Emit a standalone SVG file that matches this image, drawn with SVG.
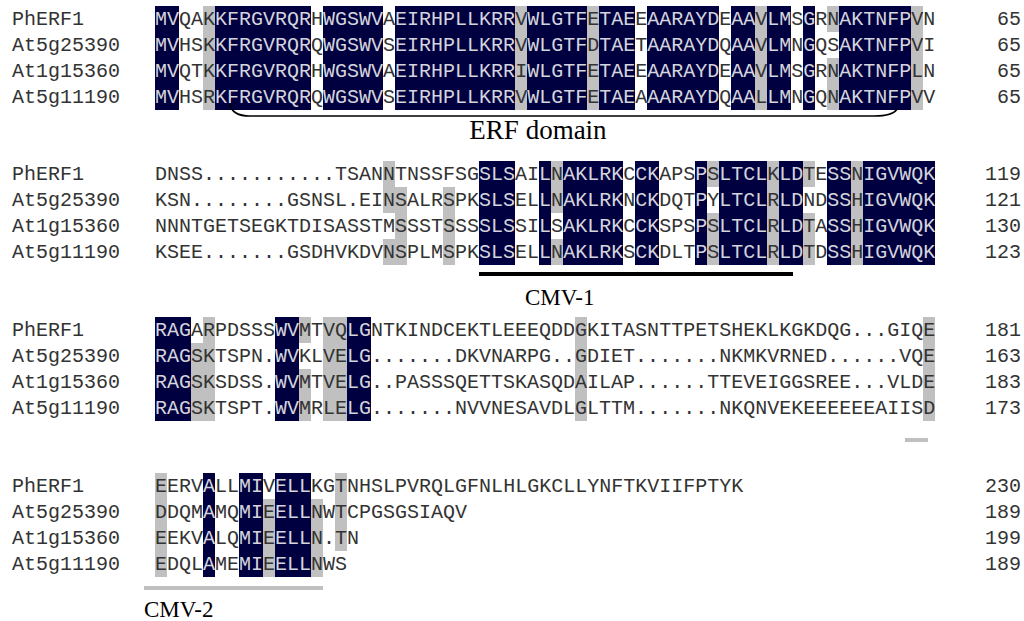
<svg xmlns="http://www.w3.org/2000/svg" width="1024" height="621" viewBox="0 0 1024 621">
<style>
.k{fill:#000040}
.g{fill:#c0c0c0}
text.m{font-family:"Liberation Mono","Courier New",monospace;font-size:20px;fill:#333}
tspan.d{fill:#d4d4dc}
text.n{text-anchor:end}
text.t{font-family:"Liberation Serif","Times New Roman",serif;font-size:23px;fill:#000}
</style>
<rect width="1024" height="621" fill="#fff"/>

<g id="block1">
<rect class="k" x="155" y="6" width="24" height="104"/>
<rect class="k" x="215" y="6" width="96" height="104"/>
<rect class="k" x="323" y="6" width="60" height="104"/>
<rect class="k" x="395" y="6" width="120" height="104"/>
<rect class="k" x="527" y="6" width="60" height="104"/>
<rect class="k" x="599" y="6" width="36" height="104"/>
<rect class="k" x="647" y="6" width="72" height="104"/>
<rect class="k" x="731" y="6" width="24" height="104"/>
<rect class="k" x="767" y="6" width="24" height="104"/>
<rect class="k" x="803" y="6" width="12" height="104"/>
<rect class="k" x="839" y="6" width="72" height="104"/>
<rect class="g" x="203" y="6" width="12" height="104"/>
<rect class="g" x="515" y="6" width="12" height="104"/>
<rect class="g" x="587" y="6" width="12" height="104"/>
<rect class="g" x="755" y="6" width="12" height="104"/>
<rect class="g" x="911" y="6" width="12" height="104"/>
<rect class="g" x="827" y="6" width="12" height="26"/>
<rect class="g" x="827" y="58" width="12" height="52"/>
<text class="m" x="12" y="25">PhERF1</text>
<text class="m" x="12" y="51">At5g25390</text>
<text class="m" x="12" y="77">At1g15360</text>
<text class="m" x="12" y="103">At5g11190</text>
<text class="m" x="155" y="25"><tspan class="d">MV</tspan>QAK<tspan class="d">KFRGVRQR</tspan>H<tspan class="d">WGSWV</tspan>A<tspan class="d">EIRHPLLKRR</tspan>V<tspan class="d">WLGTF</tspan>E<tspan class="d">TAE</tspan>E<tspan class="d">AARAYD</tspan>E<tspan class="d">AA</tspan>V<tspan class="d">LM</tspan>S<tspan class="d">G</tspan>RN<tspan class="d">AKTNFP</tspan>VN</text>
<text class="m" x="155" y="51"><tspan class="d">MV</tspan>HSK<tspan class="d">KFRGVRQR</tspan>Q<tspan class="d">WGSWV</tspan>S<tspan class="d">EIRHPLLKRR</tspan>V<tspan class="d">WLGTF</tspan>D<tspan class="d">TAE</tspan>T<tspan class="d">AARAYD</tspan>Q<tspan class="d">AA</tspan>V<tspan class="d">LM</tspan>N<tspan class="d">G</tspan>QS<tspan class="d">AKTNFP</tspan>VI</text>
<text class="m" x="155" y="77"><tspan class="d">MV</tspan>QTK<tspan class="d">KFRGVRQR</tspan>H<tspan class="d">WGSWV</tspan>A<tspan class="d">EIRHPLLKRR</tspan>I<tspan class="d">WLGTF</tspan>E<tspan class="d">TAE</tspan>E<tspan class="d">AARAYD</tspan>E<tspan class="d">AA</tspan>V<tspan class="d">LM</tspan>S<tspan class="d">G</tspan>RN<tspan class="d">AKTNFP</tspan>LN</text>
<text class="m" x="155" y="103"><tspan class="d">MV</tspan>HSR<tspan class="d">KFRGVRQR</tspan>Q<tspan class="d">WGSWV</tspan>S<tspan class="d">EIRHPLLKRR</tspan>V<tspan class="d">WLGTF</tspan>E<tspan class="d">TAE</tspan>A<tspan class="d">AARAYD</tspan>Q<tspan class="d">AA</tspan>L<tspan class="d">LM</tspan>N<tspan class="d">G</tspan>QN<tspan class="d">AKTNFP</tspan>VV</text>
<text class="m n" x="1021" y="25">65</text>
<text class="m n" x="1021" y="51">65</text>
<text class="m n" x="1021" y="77">65</text>
<text class="m n" x="1021" y="103">65</text>
</g>

<g id="block2">
<rect class="k" x="479" y="161" width="36" height="104"/>
<rect class="k" x="539" y="161" width="12" height="104"/>
<rect class="k" x="563" y="161" width="60" height="104"/>
<rect class="k" x="635" y="161" width="24" height="104"/>
<rect class="k" x="695" y="161" width="12" height="104"/>
<rect class="k" x="719" y="161" width="48" height="104"/>
<rect class="k" x="779" y="161" width="24" height="104"/>
<rect class="k" x="827" y="161" width="24" height="104"/>
<rect class="k" x="863" y="161" width="72" height="104"/>
<rect class="g" x="383" y="161" width="12" height="52"/>
<rect class="g" x="383" y="239" width="12" height="26"/>
<rect class="g" x="395" y="187" width="12" height="78"/>
<rect class="g" x="443" y="187" width="12" height="78"/>
<rect class="g" x="551" y="161" width="12" height="52"/>
<rect class="g" x="551" y="239" width="12" height="26"/>
<rect class="g" x="707" y="161" width="12" height="26"/>
<rect class="g" x="707" y="213" width="12" height="52"/>
<rect class="g" x="767" y="161" width="12" height="104"/>
<rect class="g" x="803" y="161" width="12" height="26"/>
<rect class="g" x="803" y="213" width="12" height="52"/>
<rect class="g" x="851" y="161" width="12" height="104"/>
<text class="m" x="12" y="180">PhERF1</text>
<text class="m" x="12" y="206">At5g25390</text>
<text class="m" x="12" y="232">At1g15360</text>
<text class="m" x="12" y="258">At5g11190</text>
<text class="m" x="155" y="180">DNSS...........TSANNTNSSFSG<tspan class="d">SLS</tspan>AI<tspan class="d">L</tspan>N<tspan class="d">AKLRK</tspan>C<tspan class="d">CK</tspan>APS<tspan class="d">P</tspan>S<tspan class="d">LTCL</tspan>K<tspan class="d">LD</tspan>TE<tspan class="d">SS</tspan>N<tspan class="d">IGVWQK</tspan></text>
<text class="m" x="155" y="206">KSN........GSNSL.EINSALRSPK<tspan class="d">SLS</tspan>EL<tspan class="d">L</tspan>N<tspan class="d">AKLRK</tspan>N<tspan class="d">CK</tspan>DQT<tspan class="d">P</tspan>Y<tspan class="d">LTCL</tspan>R<tspan class="d">LD</tspan>ND<tspan class="d">SS</tspan>H<tspan class="d">IGVWQK</tspan></text>
<text class="m" x="155" y="232">NNNTGETSEGKTDISASSTMSSSTSSS<tspan class="d">SLS</tspan>SI<tspan class="d">L</tspan>S<tspan class="d">AKLRK</tspan>C<tspan class="d">CK</tspan>SPS<tspan class="d">P</tspan>S<tspan class="d">LTCL</tspan>R<tspan class="d">LD</tspan>TA<tspan class="d">SS</tspan>H<tspan class="d">IGVWQK</tspan></text>
<text class="m" x="155" y="258">KSEE.......GSDHVKDVNSPLMSPK<tspan class="d">SLS</tspan>EL<tspan class="d">L</tspan>N<tspan class="d">AKLRK</tspan>S<tspan class="d">CK</tspan>DLT<tspan class="d">P</tspan>S<tspan class="d">LTCL</tspan>R<tspan class="d">LD</tspan>TD<tspan class="d">SS</tspan>H<tspan class="d">IGVWQK</tspan></text>
<text class="m n" x="1021" y="180">119</text>
<text class="m n" x="1021" y="206">121</text>
<text class="m n" x="1021" y="232">130</text>
<text class="m n" x="1021" y="258">123</text>
</g>

<g id="block3">
<rect class="k" x="155" y="317" width="36" height="104"/>
<rect class="k" x="275" y="317" width="24" height="104"/>
<rect class="k" x="347" y="317" width="24" height="104"/>
<rect class="g" x="191" y="343" width="12" height="78"/>
<rect class="g" x="203" y="317" width="12" height="104"/>
<rect class="g" x="299" y="317" width="12" height="26"/>
<rect class="g" x="299" y="369" width="12" height="52"/>
<rect class="g" x="323" y="317" width="24" height="104"/>
<rect class="g" x="575" y="317" width="12" height="104"/>
<rect class="g" x="923" y="317" width="12" height="104"/>
<text class="m" x="12" y="336">PhERF1</text>
<text class="m" x="12" y="362">At5g25390</text>
<text class="m" x="12" y="388">At1g15360</text>
<text class="m" x="12" y="414">At5g11190</text>
<text class="m" x="155" y="336"><tspan class="d">RAG</tspan>ARPDSSS<tspan class="d">WV</tspan>MTVQ<tspan class="d">LG</tspan>NTKINDCEKTLEEEQDDGKITASNTTPETSHEKLKGKDQG...GIQE</text>
<text class="m" x="155" y="362"><tspan class="d">RAG</tspan>SKTSPN.<tspan class="d">WV</tspan>KLVE<tspan class="d">LG</tspan>.......DKVNARPG..GDIET.......NKMKVRNED......VQE</text>
<text class="m" x="155" y="388"><tspan class="d">RAG</tspan>SKSDSS.<tspan class="d">WV</tspan>MTVE<tspan class="d">LG</tspan>..PASSSQETTSKASQDAILAP......TTEVEIGGSREE...VLDE</text>
<text class="m" x="155" y="414"><tspan class="d">RAG</tspan>SKTSPT.<tspan class="d">WV</tspan>MRLE<tspan class="d">LG</tspan>.......NVVNESAVDLGLTTM.......NKQNVEKEEEEEEAIISD</text>
<text class="m n" x="1021" y="336">181</text>
<text class="m n" x="1021" y="362">163</text>
<text class="m n" x="1021" y="388">183</text>
<text class="m n" x="1021" y="414">173</text>
</g>

<g id="block4">
<rect class="k" x="203" y="473" width="12" height="104"/>
<rect class="k" x="239" y="473" width="24" height="104"/>
<rect class="k" x="275" y="473" width="36" height="104"/>
<rect class="g" x="155" y="473" width="12" height="104"/>
<rect class="g" x="263" y="499" width="12" height="78"/>
<rect class="g" x="311" y="499" width="12" height="78"/>
<rect class="g" x="335" y="473" width="12" height="78"/>
<text class="m" x="12" y="492">PhERF1</text>
<text class="m" x="12" y="518">At5g25390</text>
<text class="m" x="12" y="544">At1g15360</text>
<text class="m" x="12" y="570">At5g11190</text>
<text class="m" x="155" y="492">EERV<tspan class="d">A</tspan>LL<tspan class="d">MI</tspan>V<tspan class="d">ELL</tspan>KGTNHSLPVRQLGFNLHLGKCLLYNFTKVIIFPTYK</text>
<text class="m" x="155" y="518">DDQM<tspan class="d">A</tspan>MQ<tspan class="d">MI</tspan>E<tspan class="d">ELL</tspan>NWTCPGSGSIAQV</text>
<text class="m" x="155" y="544">EEKV<tspan class="d">A</tspan>LQ<tspan class="d">MI</tspan>E<tspan class="d">ELL</tspan>N.TN</text>
<text class="m" x="155" y="570">EDQL<tspan class="d">A</tspan>ME<tspan class="d">MI</tspan>E<tspan class="d">ELL</tspan>NWS</text>
<text class="m n" x="1021" y="492">230</text>
<text class="m n" x="1021" y="518">189</text>
<text class="m n" x="1021" y="544">199</text>
<text class="m n" x="1021" y="570">189</text>
</g>

<g id="connectors">
<path d="M230 104 Q232 116 250 116 H874 Q893 116 897 109" fill="none" stroke="#000" stroke-width="1.6"/>
<rect x="479" y="272" width="314" height="4" fill="#000"/>
<rect x="905" y="438" width="23" height="4" fill="#c0c0c0"/>
<rect x="144" y="586" width="179" height="4" fill="#c0c0c0"/>
</g>

<g id="labels">
<text class="t" x="538" y="139" text-anchor="middle" font-size="27" style="font-size:27px">ERF domain</text>
<text class="t" x="525" y="305">CMV-1</text>
<text class="t" x="144" y="617">CMV-2</text>
</g>
</svg>
